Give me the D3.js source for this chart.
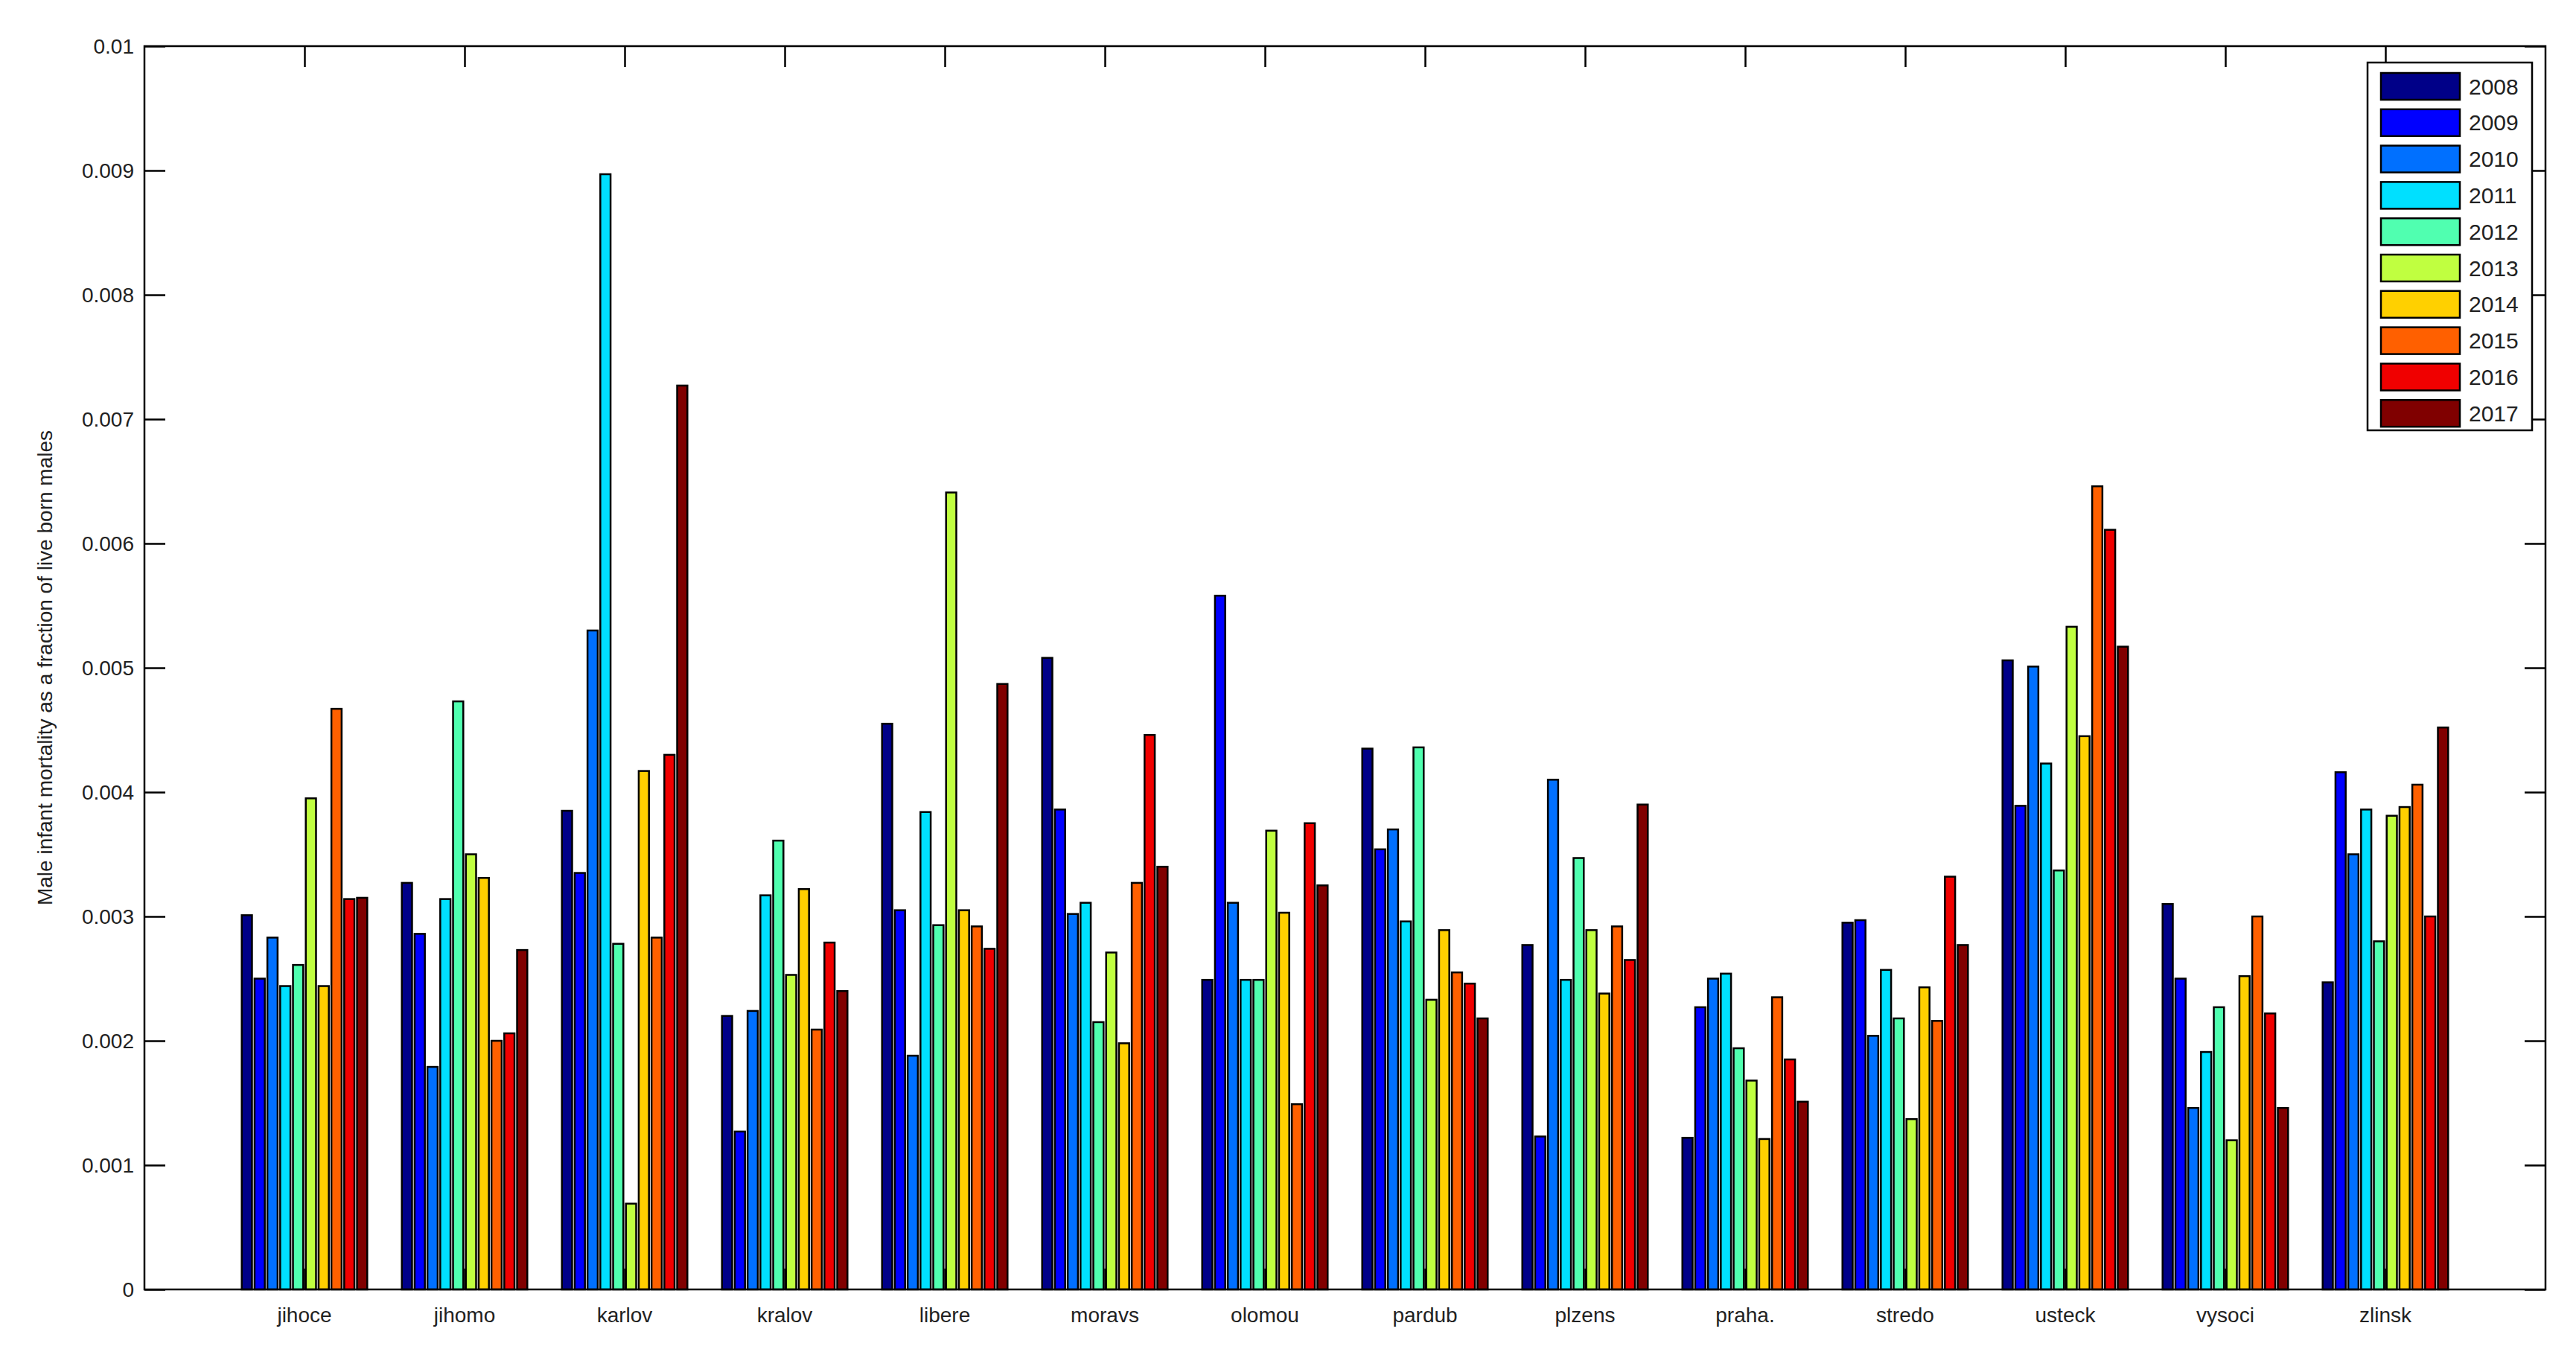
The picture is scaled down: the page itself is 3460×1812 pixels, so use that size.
<!DOCTYPE html>
<html>
<head>
<meta charset="utf-8">
<script src="https://cdn.jsdelivr.net/npm/d3@7"></script>
<style>
  body { margin: 0; background: #fff; }
  text { font-family: "Liberation Sans", Arial, sans-serif; }
</style>
</head>
<body>
<svg id="chart" width="3460" height="1812"></svg>
<script>
// Régions (abréviations) et années
const regions = ['jihoce', 'jihomo', 'karlov', 'kralov', 'libere', 'moravs', 'olomou',
    'pardub', 'plzens', 'praha.', 'stredo', 'usteck', 'vysoci', 'zlinsk'];
const years = ['2008', '2009', '2010', '2011', '2012', '2013', '2014', '2015', '2016', '2017'];
const yearColors = ['#000088', '#0000ff', '#0070ff', '#00e0ff', '#50ffb0',
    '#c0ff40', '#ffd000', '#ff6000', '#f00000', '#800000'];

// Une ligne par région, une valeur par année
const mortality = [
    [0.00301, 0.00250, 0.00283, 0.00244, 0.00261, 0.00395, 0.00244, 0.00467, 0.00314, 0.00315],
    [0.00327, 0.00286, 0.00179, 0.00314, 0.00473, 0.00350, 0.00331, 0.00200, 0.00206, 0.00273],
    [0.00385, 0.00335, 0.00530, 0.00897, 0.00278, 0.00069, 0.00417, 0.00283, 0.00430, 0.00727],
    [0.00220, 0.00127, 0.00224, 0.00317, 0.00361, 0.00253, 0.00322, 0.00209, 0.00279, 0.00240],
    [0.00455, 0.00305, 0.00188, 0.00384, 0.00293, 0.00641, 0.00305, 0.00292, 0.00274, 0.00487],
    [0.00508, 0.00386, 0.00302, 0.00311, 0.00215, 0.00271, 0.00198, 0.00327, 0.00446, 0.00340],
    [0.00249, 0.00558, 0.00311, 0.00249, 0.00249, 0.00369, 0.00303, 0.00149, 0.00375, 0.00325],
    [0.00435, 0.00354, 0.00370, 0.00296, 0.00436, 0.00233, 0.00289, 0.00255, 0.00246, 0.00218],
    [0.00277, 0.00123, 0.00410, 0.00249, 0.00347, 0.00289, 0.00238, 0.00292, 0.00265, 0.00390],
    [0.00122, 0.00227, 0.00250, 0.00254, 0.00194, 0.00168, 0.00121, 0.00235, 0.00185, 0.00151],
    [0.00295, 0.00297, 0.00204, 0.00257, 0.00218, 0.00137, 0.00243, 0.00216, 0.00332, 0.00277],
    [0.00506, 0.00389, 0.00501, 0.00423, 0.00337, 0.00533, 0.00445, 0.00646, 0.00611, 0.00517],
    [0.00310, 0.00250, 0.00146, 0.00191, 0.00227, 0.00120, 0.00252, 0.00300, 0.00222, 0.00146],
    [0.00247, 0.00416, 0.00350, 0.00386, 0.00280, 0.00381, 0.00388, 0.00406, 0.00300, 0.00452]
];
const yTicks = [0, 0.001, 0.002, 0.003, 0.004, 0.005, 0.006, 0.007, 0.008, 0.009, 0.01];

const plotLeft = 194, plotRight = 3419, plotTop = 62, plotBottom = 1732;
const svg = d3.select('#chart');

const x = d3.scaleLinear().domain([0, regions.length + 1]).range([plotLeft, plotRight]);
const y = d3.scaleLinear().domain([0, 0.01]).range([plotBottom, plotTop]);

// Largeur de groupe façon MATLAB : 0.8 unité
const groupWidth = 0.8;
const slot = groupWidth / years.length;

const bars = svg.append('g');
mortality.forEach(function (row, i) {
    row.forEach(function (v, j) {
        const x0 = (i + 1) - groupWidth / 2 + j * slot + slot * 0.1;
        bars.append('rect')
            .attr('x', x(x0))
            .attr('y', y(v))
            .attr('width', x(x0 + slot * 0.8) - x(x0))
            .attr('height', y(0) - y(v))
            .attr('fill', yearColors[j])
            .attr('stroke', '#000')
            .attr('stroke-width', 2.5);
    });
});

// Cadre et graduations (vers l'intérieur, comme MATLAB)
const tickLen = 28;
svg.append('rect')
    .attr('x', plotLeft).attr('y', plotTop)
    .attr('width', plotRight - plotLeft).attr('height', plotBottom - plotTop)
    .attr('fill', 'none').attr('stroke', '#000').attr('stroke-width', 2.5);

const yAxis = svg.append('g').attr('transform', `translate(${plotLeft},0)`)
    .call(d3.axisRight(y).tickValues(yTicks).tickSize(tickLen).tickFormat(''));
yAxis.select('.domain').remove();
const yAxisR = svg.append('g').attr('transform', `translate(${plotRight},0)`)
    .call(d3.axisLeft(y).tickValues(yTicks).tickSize(tickLen).tickFormat(''));
yAxisR.select('.domain').remove();

svg.append('g').selectAll('text')
    .data(yTicks)
    .enter().append('text')
    .attr('x', plotLeft - 14)
    .attr('y', d => y(d))
    .attr('dy', '0.35em')
    .attr('text-anchor', 'end')
    .attr('font-size', 28)
    .attr('fill', '#222')
    .text(d => d3.format('~g')(d));

const catTicks = d3.range(1, regions.length + 1);
const xAxisB = svg.append('g').attr('transform', `translate(0,${plotBottom})`)
    .call(d3.axisTop(x).tickValues(catTicks).tickSize(tickLen).tickFormat(''));
xAxisB.select('.domain').remove();
const xAxisT = svg.append('g').attr('transform', `translate(0,${plotTop})`)
    .call(d3.axisBottom(x).tickValues(catTicks).tickSize(tickLen).tickFormat(''));
xAxisT.select('.domain').remove();
svg.selectAll('.tick line').attr('stroke', '#000').attr('stroke-width', 2.5);

svg.append('g').selectAll('text')
    .data(regions)
    .enter().append('text')
    .attr('x', (d, i) => x(i + 1))
    .attr('y', plotBottom + 44)
    .attr('text-anchor', 'middle')
    .attr('font-size', 28)
    .attr('fill', '#222')
    .text(d => d);

svg.append('text')
    .attr('transform', `translate(70,${(plotTop + plotBottom) / 2}) rotate(-90)`)
    .attr('text-anchor', 'middle')
    .attr('font-size', 28)
    .attr('fill', '#222')
    .text('Male infant mortality as a fraction of live born males');

// Légende
const lg = svg.append('g').attr('transform', 'translate(3180,84)');
lg.append('rect')
    .attr('width', 221).attr('height', 494)
    .attr('fill', '#fff').attr('stroke', '#000').attr('stroke-width', 2.5);
years.forEach(function (yr, j) {
    const row = lg.append('g').attr('transform', `translate(0,${14 + j * 48.8})`);
    row.append('rect')
        .attr('x', 18).attr('width', 106).attr('height', 36)
        .attr('fill', yearColors[j]).attr('stroke', '#000').attr('stroke-width', 2.5);
    row.append('text')
        .attr('x', 136).attr('y', 18).attr('dy', '0.35em')
        .attr('font-size', 30).attr('fill', '#222')
        .text(yr);
});
</script>
</body>
</html>
